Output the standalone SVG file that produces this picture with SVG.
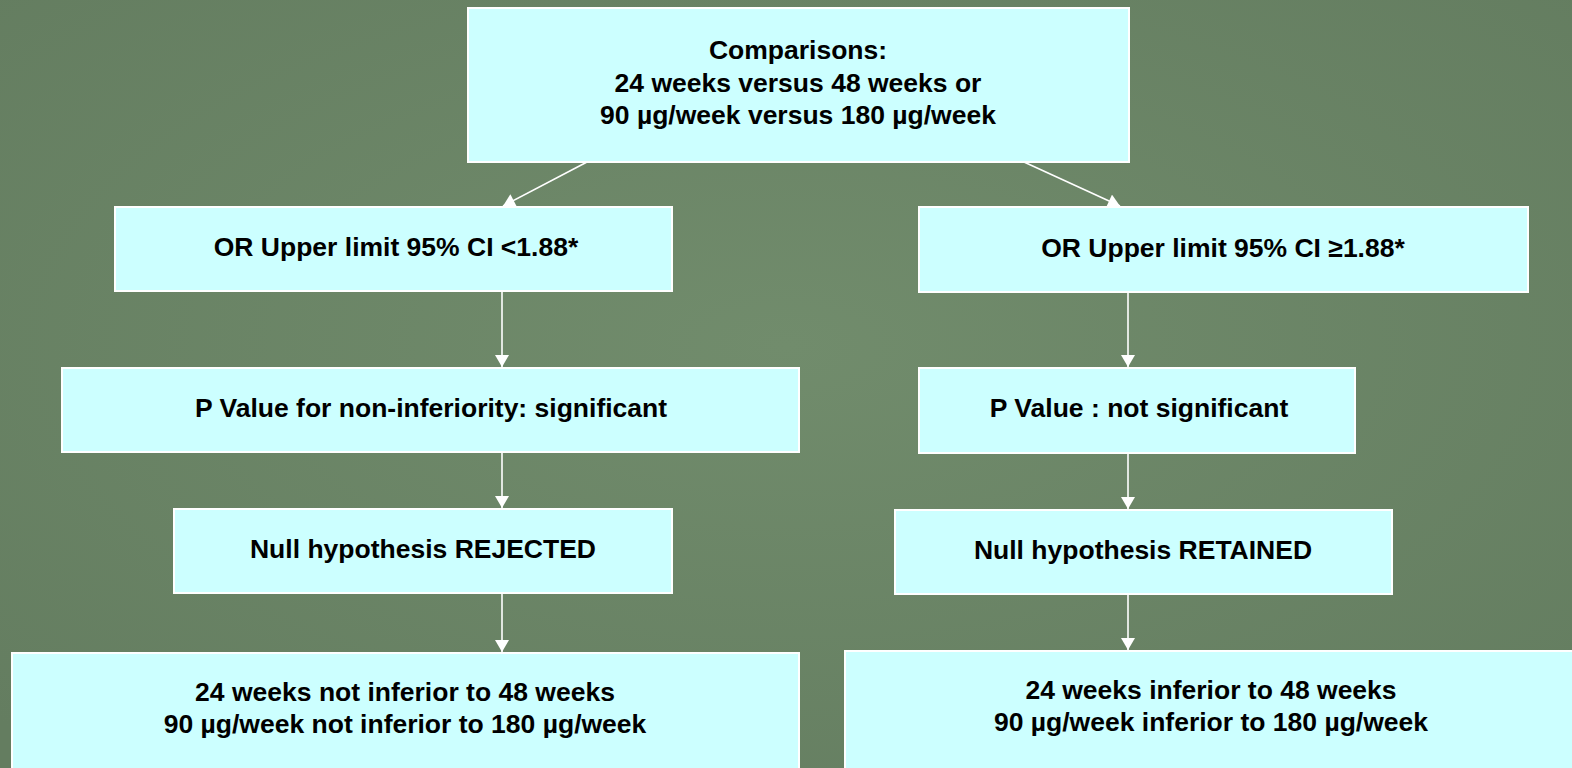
<svg xmlns="http://www.w3.org/2000/svg" width="1572" height="768" viewBox="0 0 1572 768">
<defs>
<radialGradient id="bg" cx="50%" cy="45%" r="70%">
<stop offset="0" stop-color="#718c6c"/>
<stop offset="1" stop-color="#647d60"/>
</radialGradient>
<marker id="ah" viewBox="0 0 12 14" refX="12" refY="7" markerWidth="13" markerHeight="14" markerUnits="userSpaceOnUse" orient="auto">
<path d="M0,0 L12,7 L0,14 Z" fill="#ffffff"/>
</marker>
<style>
.box{fill:#ccffff;stroke:#ffffff;stroke-width:2}
.t{font-family:"Liberation Sans",Arial,sans-serif;font-weight:bold;font-size:26.5px;fill:#000;text-anchor:middle}
.c{stroke:#ffffff;stroke-width:1.6;fill:none;marker-end:url(#ah)}
</style>
</defs>
<rect width="1572" height="768" fill="url(#bg)"/>
<g id="connectors">
<line class="c" x1="587" y1="162" x2="503" y2="206"/>
<line class="c" x1="1024" y1="162" x2="1120" y2="206"/>
<line class="c" x1="502" y1="291" x2="502" y2="367"/>
<line class="c" x1="502" y1="452" x2="502" y2="508"/>
<line class="c" x1="502" y1="593" x2="502" y2="652"/>
<line class="c" x1="1128" y1="292" x2="1128" y2="367"/>
<line class="c" x1="1128" y1="453" x2="1128" y2="509"/>
<line class="c" x1="1128" y1="594" x2="1128" y2="650"/>
</g>
<g id="top">
<rect class="box" x="468" y="8" width="661" height="154"/>
<text class="t" x="798" y="59">Comparisons:</text>
<text class="t" x="798" y="92">24 weeks versus 48 weeks or</text>
<text class="t" x="798" y="124">90 µg/week versus 180 µg/week</text>
</g>
<g id="or-left">
<rect class="box" x="115" y="207" width="557" height="84"/>
<text class="t" x="396" y="256">OR Upper limit 95% CI &lt;1.88*</text>
</g>
<g id="or-right">
<rect class="box" x="919" y="207" width="609" height="85"/>
<text class="t" x="1223" y="257">OR Upper limit 95% CI ≥1.88*</text>
</g>
<g id="p-left">
<rect class="box" x="62" y="368" width="737" height="84"/>
<text class="t" x="431" y="417">P Value for non-inferiority: significant</text>
</g>
<g id="p-right">
<rect class="box" x="919" y="368" width="436" height="85"/>
<text class="t" x="1139" y="417">P Value : not significant</text>
</g>
<g id="null-left">
<rect class="box" x="174" y="509" width="498" height="84"/>
<text class="t" x="423" y="558">Null hypothesis REJECTED</text>
</g>
<g id="null-right">
<rect class="box" x="895" y="510" width="497" height="84"/>
<text class="t" x="1143" y="559">Null hypothesis RETAINED</text>
</g>
<g id="final-left">
<rect class="box" x="12" y="653" width="787" height="120"/>
<text class="t" x="405" y="701">24 weeks not inferior to 48 weeks</text>
<text class="t" x="405" y="733">90 µg/week not inferior to 180 µg/week</text>
</g>
<g id="final-right">
<rect class="box" x="845" y="651" width="732" height="122"/>
<text class="t" x="1211" y="699">24 weeks inferior to 48 weeks</text>
<text class="t" x="1211" y="731">90 µg/week inferior to 180 µg/week</text>
</g>
</svg>
